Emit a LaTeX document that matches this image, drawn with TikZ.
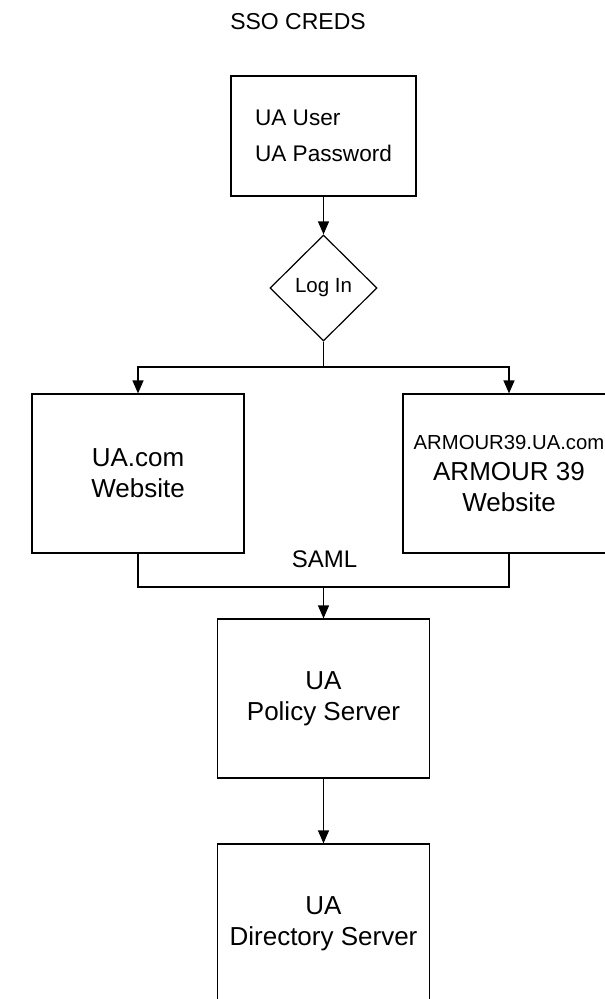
\documentclass[tikz,border=0pt]{standalone}
\usepackage{fontspec}
\setmainfont{Liberation Sans}
\usetikzlibrary{shapes.geometric,arrows.meta}
\begin{document}
\begin{tikzpicture}[x=1pt,y=-1pt,
  ln/.style={line width=1.2pt},
  box/.style={draw, ln, minimum width=212pt, minimum height=159pt, inner sep=0pt, align=center, font=\fontsize{26}{31}\selectfont},
  arr/.style={ln, -{Triangle[width=11pt,length=13pt]}}]
\useasboundingbox (0,0) rectangle (605,999);
\clip (0,0) rectangle (605,999);
\node[font=\fontsize{23}{28}\selectfont] (title) at (298,22) {SSO CREDS};
\node[draw, ln, minimum width=185pt, minimum height=120pt, align=left, font=\fontsize{22.6}{36}\selectfont] (cred) at (323.5,136) {UA User\\UA Password};
\node[draw, ln, diamond, minimum width=107pt, minimum height=106pt, inner sep=0pt, font=\fontsize{20.5}{24}\selectfont] (login) at (323.5,288) {Log In};
\node[box] (uacom) at (138,473.5) {UA.com\\Website};
\node[box] (armour) at (509,473.5) {{\fontsize{20.3}{24}\selectfont ARMOUR39.UA.com}\\ARMOUR 39\\Website};
\node[font=\fontsize{24}{29}\selectfont] (saml) at (324.5,559.5) {SAML};
\node[box] (policy) at (323.5,698.5) {UA\\Policy Server};
\node[box] (dir) at (323.5,923.5) {UA\\Directory Server};
\coordinate (split) at (323.5,367);
\coordinate (join) at (323.5,587);
\draw[arr] (cred.south) -- (login.north);
\draw[ln] (login.south) -- (split);
\draw[arr] (split) -| (uacom.north);
\draw[arr] (split) -| (armour.north);
\draw[ln] (uacom.south) |- (join);
\draw[ln] (armour.south) |- (join);
\draw[arr] (join) -- (policy.north);
\draw[arr] (policy.south) -- (dir.north);
\end{tikzpicture}
\end{document}
